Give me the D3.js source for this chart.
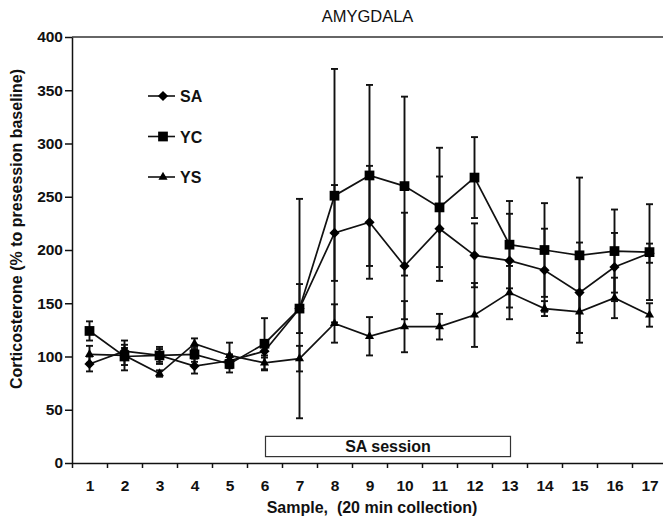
<!DOCTYPE html>
<html>
<head>
<meta charset="utf-8">
<script src="https://cdn.jsdelivr.net/npm/d3@7"></script>
<style>
  body { margin: 0; background: #fff; }
  svg { display: block; font-family: 'Liberation Sans', Arial, sans-serif; }
  .tick text { font-weight: bold; font-size: 15.5px; fill: #111; }
</style>
</head>
<body>
<svg id="chart" width="663" height="517"></svg>
<script>
// samples (20 min collection)
const samples = d3.range(1, 18)

// mean values, % of presession baseline
const saValues = [93, 105, 101, 91, 96, 105, 145, 216, 226, 185, 220, 195, 190, 181, 160, 184, 197]
const ycValues = [124, 100, 101, 102, 93, 112, 145, 251, 270, 260, 240, 268, 205, 200, 195, 199, 198]
const ysValues = [102, 101, 84, 112, 101, 94, 98, 131, 119, 128, 128, 139, 160, 145, 142, 155, 139]

// error bar half-lengths
const saErrors = [7, 6, 8, 7, 6, 6, 23, 45, 53, 50, 49, 30, 44, 39, 47, 32, 9]
const ycErrors = [9, 8, 6, 7, 8, 24, 103, 119, 85, 84, 56, 38, 41, 44, 73, 39, 45]
const ysErrors = [8, 14, 3, 5, 12, 7, 12, 18, 18, 24, 12, 30, 25, 7, 20, 19, 11]

const yTicks = [0, 50, 100, 150, 200, 250, 300, 350, 400]
const sessionRange = [6, 13]

const series = [
  { name: 'YS', values: ysValues, errors: ysErrors, symbol: d3.symbolTriangle, size: 36, rotate: 0 },
  { name: 'SA', values: saValues, errors: saErrors, symbol: d3.symbolSquare, size: 52, rotate: 45 },
  { name: 'YC', values: ycValues, errors: ycErrors, symbol: d3.symbolSquare, size: 95, rotate: 0 }
]
const legendOrder = ['SA', 'YC', 'YS']

const MARGINS = { top: 37, right: -4, bottom: 54, left: 72 }
const WIDTH = 663
const HEIGHT = 517

const svg = d3.select('#chart')

const x = d3.scaleLinear()
  .domain([0.5, 17.5])
  .range([MARGINS.left, WIDTH - MARGINS.right])
const y = d3.scaleLinear()
  .domain([0, 400])
  .range([HEIGHT - MARGINS.bottom, MARGINS.top])

// top frame line
svg.append('line')
  .attr('x1', x(0.5)).attr('x2', x(17.5))
  .attr('y1', y(400)).attr('y2', y(400))
  .attr('stroke', '#333').attr('stroke-width', 1.5)

// y axis
const yAxis = d3.axisLeft(y).tickValues(yTicks).tickSize(7).tickSizeOuter(0).tickPadding(2)
svg.append('g')
  .attr('transform', `translate(${MARGINS.left}, 0)`)
  .call(yAxis)
  .call(g => g.selectAll('.domain, .tick line').attr('stroke', '#111').attr('stroke-width', 1.5))

// x axis: ticks on band edges, labels at centres
const xEdges = d3.axisBottom(x).tickValues(d3.range(0.5, 18, 1)).tickSize(5).tickSizeOuter(0).tickFormat('')
svg.append('g')
  .attr('transform', `translate(0, ${y(0)})`)
  .call(xEdges)
  .call(g => g.selectAll('.domain, .tick line').attr('stroke', '#111').attr('stroke-width', 1.5))

const xLabels = d3.axisBottom(x).tickValues(samples).tickSize(0).tickPadding(17)
svg.append('g')
  .attr('transform', `translate(0, ${y(0)})`)
  .call(xLabels)
  .call(g => g.select('.domain').remove())

// titles
svg.append('text')
  .attr('x', (x(0.5) + x(17.5)) / 2 - 2)
  .attr('y', 22)
  .attr('text-anchor', 'middle')
  .attr('font-size', 16.5)
  .attr('fill', '#111')
  .text('AMYGDALA')

svg.append('text')
  .attr('x', 372)
  .attr('y', 513)
  .attr('text-anchor', 'middle')
  .attr('font-size', 16)
  .attr('font-weight', 'bold')
  .attr('fill', '#111')
  .style('white-space', 'pre')
  .text('Sample,  (20 min collection)')

svg.append('text')
  .attr('transform', `translate(22, 229) rotate(-90)`)
  .attr('text-anchor', 'middle')
  .attr('font-size', 16)
  .attr('font-weight', 'bold')
  .attr('fill', '#111')
  .text('Corticosterone (% to presession baseline)')

// SA session box
svg.append('rect')
  .attr('x', x(sessionRange[0]) + 1)
  .attr('y', y(25))
  .attr('width', x(sessionRange[1]) - x(sessionRange[0]))
  .attr('height', y(6) - y(25))
  .attr('fill', '#fff')
  .attr('stroke', '#333')
  .attr('stroke-width', 1.2)

svg.append('text')
  .attr('x', (x(sessionRange[0]) + x(sessionRange[1])) / 2 + 1)
  .attr('y', 452)
  .attr('text-anchor', 'middle')
  .attr('font-size', 16)
  .attr('font-weight', 'bold')
  .attr('fill', '#111')
  .text('SA session')

const lineGen = d3.line()
  .x((d, i) => x(samples[i]))
  .y(d => y(d))

// error bars first, then lines, then markers
series.forEach(s => {
  const g = svg.append('g').attr('class', `err-${s.name}`)
  s.values.forEach((v, i) => {
    const cx = x(samples[i])
    const lo = y(v - s.errors[i])
    const hi = y(v + s.errors[i])
    g.append('line').attr('x1', cx).attr('x2', cx).attr('y1', lo).attr('y2', hi)
    g.append('line').attr('x1', cx - 3.5).attr('x2', cx + 3.5).attr('y1', hi).attr('y2', hi)
    g.append('line').attr('x1', cx - 3.5).attr('x2', cx + 3.5).attr('y1', lo).attr('y2', lo)
  })
  g.selectAll('line').attr('stroke', '#111').attr('stroke-width', 1.9)
})

series.forEach(s => {
  svg.append('path')
    .attr('d', lineGen(s.values))
    .attr('fill', 'none')
    .attr('stroke', '#111')
    .attr('stroke-width', 1.7)
})

series.forEach(s => {
  svg.append('g').selectAll('path')
    .data(s.values)
    .join('path')
    .attr('transform', (d, i) => `translate(${x(samples[i])}, ${y(d)}) rotate(${s.rotate})`)
    .attr('d', d3.symbol(s.symbol, s.size))
    .attr('fill', '#000')
})

// legend
const legend = svg.append('g').attr('transform', 'translate(148, 96)')
legendOrder.forEach((name, i) => {
  const s = series.find(d => d.name === name)
  const row = legend.append('g').attr('transform', `translate(0, ${i * 40.5})`)
  row.append('line').attr('x1', 0).attr('x2', 27).attr('stroke', '#111').attr('stroke-width', 1.6)
  row.append('path')
    .attr('transform', `translate(15, 0) rotate(${s.rotate})`)
    .attr('d', d3.symbol(s.symbol, s.size))
    .attr('fill', '#000')
  row.append('text')
    .attr('x', 32)
    .attr('y', 6)
    .attr('font-size', 16)
    .attr('font-weight', 'bold')
    .attr('fill', '#111')
    .text(name)
})
</script>
</body>
</html>
